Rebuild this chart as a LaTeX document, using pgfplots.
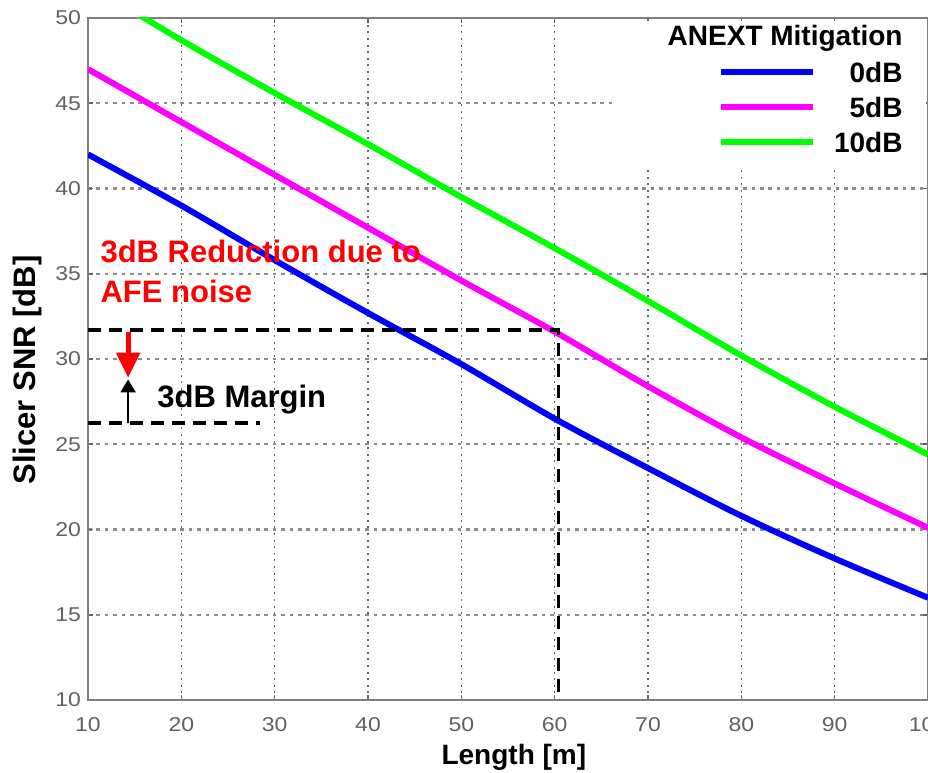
\documentclass[border=0pt]{standalone}
\usepackage{fontspec}
\setmainfont{Liberation Sans}
\newfontfamily\tickfont[FakeStretch=1.15]{Liberation Sans}
\usepackage{pgfplots}
\pgfplotsset{compat=1.18}
\usetikzlibrary{arrows.meta}

\definecolor{snrblue}{RGB}{0,0,255}
\definecolor{snrmag}{RGB}{255,0,255}
\definecolor{snrgreen}{RGB}{0,255,0}

% slicer SNR vs cable length, one table per ANEXT mitigation level
\pgfplotstableread{
x y
10 42.0
20 39.0
30 35.8
40 32.7
50 29.7
60 26.5
70 23.6
80 20.8
90 18.3
100 16.0
}\zerodb
\pgfplotstableread{
x y
10 47.0
20 43.9
30 40.8
40 37.7
50 34.6
60 31.6
70 28.4
80 25.4
90 22.7
100 20.1
}\fivedb
\pgfplotstableread{
x y
10 52.0
20 48.7
30 45.6
40 42.6
50 39.5
60 36.5
70 33.4
80 30.2
90 27.2
100 24.4
}\tendb

\begin{document}
\begin{tikzpicture}
\begin{axis}[
  name=ax,
  scale only axis,
  width=420pt, height=341pt,
  xmin=10, xmax=100, ymin=10, ymax=50,
  xtick={10,20,...,100}, ytick={10,15,...,50},
  grid=major,
  x grid style={black!60, line width=0.7pt, dash pattern=on 1pt off 2.3pt},
  y grid style={black!45, line width=1.1pt, dash pattern=on 1.8pt off 2.4pt},
  axis line style={black!50, line width=1pt},
  major tick length=2.5pt,
  tick style={black!60, line width=0.8pt},
  /pgf/number format/assume math mode=true,
  ticklabel style={font=\tickfont\fontsize{10}{12}\selectfont, text=black!62},
  xticklabel style={yshift=-5pt},
  xlabel={Length [m]},
  ylabel={Slicer SNR [dB]},
  every axis x label/.style={at={(axis description cs:0.507,-0.095)}, anchor=base,
    font=\fontsize{14}{16}\selectfont\bfseries},
  every axis y label/.style={at={(axis description cs:-0.062,0.484)}, rotate=90, anchor=base,
    font=\fontsize{15.5}{18}\selectfont\bfseries},
  legend style={at={(axis description cs:0.9702,0.9354)}, anchor=north east,
    draw=none, fill=none, inner sep=0pt, row sep=7.5pt, column sep=9pt,
    font=\fontsize{14}{16}\selectfont\bfseries,
    nodes={inner sep=0pt, text height=10pt, text depth=0pt}},
  legend cell align=right,
  legend image code/.code={\draw[line width=3pt] (0pt,0pt) -- (46pt,0pt);},
]
% white box behind the legend
\fill[white] (axis cs:66.5,41.2) rectangle (axis cs:99.8,49.8);

\addplot[snrblue, line width=3pt, smooth] table {\zerodb};
\addlegendentry{0dB}
\addplot[snrmag, line width=3pt, smooth] table {\fivedb};
\addlegendentry{5dB}
\addplot[snrgreen, line width=3pt, smooth] table {\tendb};
\addlegendentry{10dB}

\node[anchor=base east, inner sep=0pt, font=\fontsize{14}{16}\selectfont\bfseries]
  at (axis cs:97.32,48.36) {ANEXT Mitigation};

% margin annotation
\draw[black, line width=1.6pt, dash pattern=on 6.5pt off 4pt]
  (axis cs:10,31.7) -- (axis cs:60.4,31.7) -- (axis cs:60.4,10);
\draw[black, line width=1.6pt, dash pattern=on 6.5pt off 4pt]
  (axis cs:10,26.25) -- (axis cs:28.4,26.25);
\draw[red, line width=2.5pt, -{Triangle[length=12.5pt,width=11.5pt]}]
  (axis cs:14.3,31.6) -- (axis cs:14.3,28.9);
\draw[black, line width=1.3pt, -{Triangle[length=6.5pt,width=7.5pt]}]
  (axis cs:14.3,26.25) -- (axis cs:14.3,28.8);

\node[anchor=base west, inner sep=0pt, text=red, font=\fontsize{15.5}{18}\selectfont\bfseries]
  at (axis cs:11.3,35.63) {3dB Reduction due to};
\node[anchor=base west, inner sep=0pt, text=red, font=\fontsize{15.5}{18}\selectfont\bfseries]
  at (axis cs:11.3,33.29) {AFE noise};
\node[anchor=base west, inner sep=0pt, font=\fontsize{15.5}{18}\selectfont\bfseries]
  at (axis cs:17.39,27.18) {3dB Margin};
\end{axis}
% the reference is cut off at the right edge of the axis
\pgfresetboundingbox
\path[use as bounding box] ([shift={(-44pt,-36.5pt)}]ax.south west)
  rectangle ([shift={(0pt,9pt)}]ax.north east);
\end{tikzpicture}
\end{document}
